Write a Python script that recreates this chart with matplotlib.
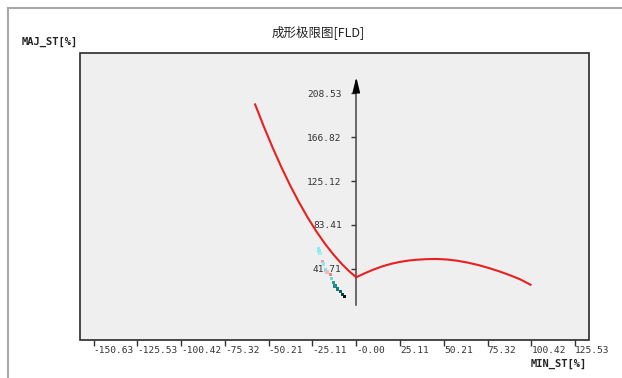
import matplotlib.pyplot as plt
from matplotlib.patches import Rectangle
from matplotlib.lines import Line2D

# FLD curve (left and right branch)
left_x = [-58.0, -53.0, -48.0, -43.0, -38.0, -33.0, -28.0, -23.0, -18.0, -13.0, -8.0, -4.0, 0.0]
left_y = [198.0, 176.9, 157.1, 138.5, 121.3, 105.4, 90.8, 77.5, 65.6, 55.0, 45.7, 39.2, 33.6]
right_x = [0, 5, 10, 15, 20, 25, 30, 35, 40, 46, 52, 58, 64, 70, 76, 82, 88, 94, 99.9]
right_y = [33.6, 37.5, 41.0, 44.0, 46.4, 48.2, 49.5, 50.3, 50.8, 51.0, 50.5, 49.3, 47.5,
           45.2, 42.4, 39.2, 35.6, 31.6, 26.5]

# measured strain points
pt_x = [-21.8, -21.4, -20.8, -19.3, -18.8, -17.9, -16.8, -15.0, -14.2, -13.2, -12.2, -10.8, -9.3, -7.9, -6.5]
pt_y = [61.2, 58.6, 56.4, 48.4, 46.2, 40.5, 38.6, 35.8, 32.0, 28.2, 25.3, 22.4, 19.9, 17.2, 15.1]
pt_c = ['#8eeaf2', '#8eeaf2', '#9ff0f5', '#e8a0a0', '#8eeaf2', '#7fe0ea', '#f0b8b8',
        '#e08888', '#70d8e0', '#2a9a9a', '#1f8c8c', '#1a7a7a', '#145e5e', '#0e4040', '#101010']

xticks = [-150.63, -125.53, -100.42, -75.32, -50.21, -25.11, 0.0, 25.11, 50.21, 75.32, 100.42, 125.53]
xlabels = ['-150.63', '-125.53', '-100.42', '-75.32', '-50.21', '-25.11', '-0.00',
           '25.11', '50.21', '75.32', '100.42', '125.53']
yticks = [41.71, 83.41, 125.12, 166.82, 208.53]
ylabels = ['41.71', '83.41', '125.12', '166.82', '208.53']

mono = 'DejaVu Sans Mono'
cjk = ['Noto Sans CJK SC', 'DejaVu Sans']

fig = plt.figure(figsize=(6.22, 3.78), dpi=100)
ax = fig.add_axes([80 / 622, 1 - 339.5 / 378, 509.3 / 622, 286.5 / 378])
ax.set_facecolor('#efefef')
ax.set_xlim(-158.4, 133.6)
ax.set_ylim(-25.6, 246.9)

for s in ['top', 'right', 'bottom']:
    ax.spines[s].set_visible(False)
ax.spines['left'].set_position(('data', 0))
ax.spines['left'].set_bounds(7, 216)
ax.spines['left'].set_color('#444444')
ax.spines['left'].set_linewidth(1.1)
ax.add_patch(Rectangle((0, 0), 1, 1, transform=ax.transAxes, fill=False,
                       ec='#2a2a2a', lw=1.2, clip_on=False, zorder=5))
ax.annotate('', xy=(0, 224), xytext=(0, 210),
            arrowprops=dict(arrowstyle='-|>,head_length=0.9,head_width=0.22',
                            color='black', lw=1.1, shrinkA=0, shrinkB=0))

ax.set_xticks(xticks)
ax.set_xticklabels(xlabels, fontsize=6.8, family=mono, color='#333333')
for lab in ax.get_xticklabels():
    lab.set_horizontalalignment('left')
ax.tick_params(axis='x', direction='out', length=4, width=1, color='#333333', pad=1)

ax.set_yticks(yticks)
ax.set_yticklabels(ylabels, fontsize=6.8, family=mono, color='#333333')
ax.tick_params(axis='y', direction='out', length=3.5, width=1, color='#333333', pad=7)

ax.plot(left_x, left_y, color='#e82020', lw=1.5, zorder=3)
ax.plot(right_x, right_y, color='#e82020', lw=1.5, zorder=3)
ax.scatter(pt_x, pt_y, c=pt_c, s=5, marker='s', linewidths=0, zorder=4)

fig.text(318 / 622, 1 - 32 / 378, '成形极限图[FLD]', ha='center', va='center',
         fontsize=9, family=cjk, color='#222222')
fig.text(22 / 622, 1 - 42 / 378, 'MAJ_ST[%]', ha='left', va='center',
         fontsize=7.5, family=mono, weight='bold', color='#222222')
fig.text(531 / 622, 1 - 364 / 378, 'MIN_ST[%]', ha='left', va='center',
         fontsize=7.5, family=mono, weight='bold', color='#222222')

# window frame lines
fig.add_artist(Line2D([8 / 622, 1], [1 - 8 / 378] * 2, color='#a8a8a8', lw=1.5))
fig.add_artist(Line2D([8 / 622] * 2, [0, 1 - 8 / 378], color='#a8a8a8', lw=1.5))

fig.savefig('out.png', dpi=100)
